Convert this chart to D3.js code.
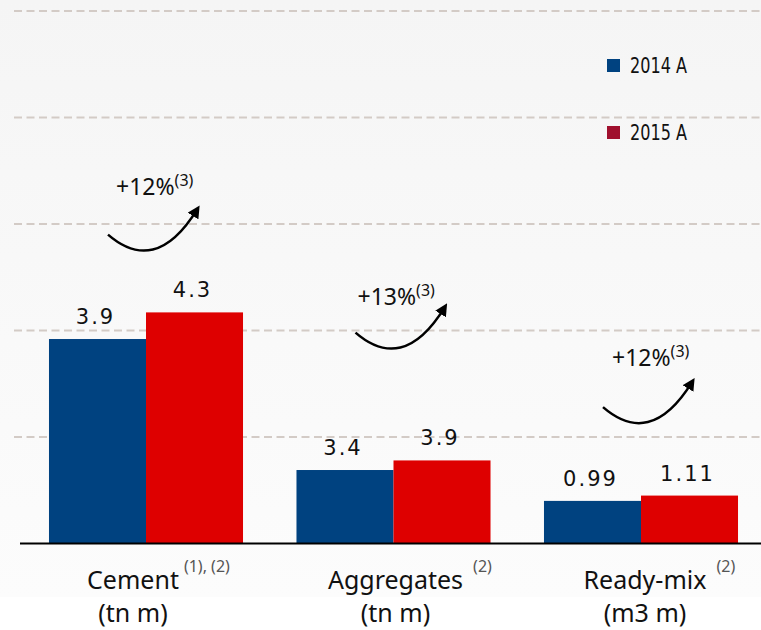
<!DOCTYPE html>
<html lang="en">
<head>
<meta charset="utf-8">
<title>Volumes 2014A vs 2015A</title>
<script src="https://d3js.org/d3.v7.min.js"></script>
<style>
  body { margin: 0; background: #fff; }
  .vlabel { font-family: "DejaVu Sans", sans-serif; font-size: 21px; letter-spacing: 2px; fill: #111; }
  .cat { font-family: "Noto Sans", sans-serif; font-size: 25px; fill: #111; }
  .sup { font-family: "Noto Sans", sans-serif; font-size: 16px; fill: #555; }
  .growth { font-family: "Noto Sans", sans-serif; font-size: 23px; fill: #111; }
  .legend { font-family: "Liberation Sans Narrow", "DejaVu Sans Condensed", sans-serif; font-size: 21px; fill: #111; }
</style>
</head>
<body>
<script>
// data
var categories = ["Cement", "Aggregates", "Ready-mix"];
var units = ["(tn m)", "(tn m)", "(m3 m)"];
var notes = ["(1), (2)", "(2)", "(2)"];
var series = ["2014 A", "2015 A"];
// bar heights as drawn, in gridline units
var heights2014 = [1.92, 0.69, 0.40];
var heights2015 = [2.17, 0.78, 0.45];
// printed values
var labels2014 = ["3.9", "3.4", "0.99"];
var labels2015 = ["4.3", "3.9", "1.11"];
var growth = ["+12%", "+13%", "+12%"];
var growthNote = "(3)";

var width = 761, height = 630;
var colors = ["#004280", "#de0000"];
var legendColors = ["#004280", "#a0102e"];

var svg = d3.select("body").append("svg")
  .attr("width", width)
  .attr("height", height);

// background
var defs = svg.append("defs");
var grad = defs.append("linearGradient").attr("id", "bg")
  .attr("x1", 0).attr("y1", 0).attr("x2", 0).attr("y2", 1);
grad.append("stop").attr("offset", "0%").attr("stop-color", "#f5f5f5");
grad.append("stop").attr("offset", "100%").attr("stop-color", "#fcfcfc");
svg.append("rect").attr("width", width).attr("height", 597).attr("fill", "url(#bg)");

defs.append("marker")
  .attr("id", "head")
  .attr("viewBox", "0 0 10 10")
  .attr("refX", 6).attr("refY", 5)
  .attr("markerWidth", 5).attr("markerHeight", 5)
  .attr("orient", "auto")
  .append("path").attr("d", "M0,0 L10,5 L0,10 z").attr("fill", "#000");

var x = d3.scaleBand()
  .domain(categories)
  .range([22.25, 764.75])
  .paddingInner(0.216)
  .paddingOuter(0.108);

var xSub = d3.scaleBand()
  .domain(series)
  .range([0, x.bandwidth()]);

var y = d3.scaleLinear()
  .domain([0, 5])
  .range([543.5, 11]);

// dashed gridlines
svg.append("g")
  .selectAll("line")
  .data(y.ticks(5).filter(function(d) { return d > 0; }))
  .enter().append("line")
  .attr("x1", 14).attr("x2", width)
  .attr("y1", function(d) { return y(d); })
  .attr("y2", function(d) { return y(d); })
  .attr("stroke", "#d3cbc6")
  .attr("stroke-width", 2)
  .attr("stroke-dasharray", "8,4.5");

var rows = categories.map(function(c, i) {
  return [
    { cat: c, s: series[0], h: heights2014[i], label: labels2014[i], color: colors[0] },
    { cat: c, s: series[1], h: heights2015[i], label: labels2015[i], color: colors[1] }
  ];
});

var groups = svg.append("g").selectAll("g")
  .data(rows)
  .enter().append("g")
  .attr("transform", function(d) { return "translate(" + x(d[0].cat) + ",0)"; });

groups.selectAll("rect")
  .data(function(d) { return d; })
  .enter().append("rect")
  .attr("x", function(d) { return xSub(d.s); })
  .attr("width", xSub.bandwidth())
  .attr("y", function(d) { return y(d.h); })
  .attr("height", function(d) { return y(0) - y(d.h); })
  .attr("fill", function(d) { return d.color; });

groups.selectAll("text")
  .data(function(d) { return d; })
  .enter().append("text")
  .attr("class", "vlabel")
  .attr("x", function(d) { return xSub(d.s) + xSub.bandwidth() / 2 - 2; })
  .attr("y", function(d) { return y(d.h) - 15; })
  .attr("text-anchor", "middle")
  .text(function(d) { return d.label; });

// baseline
svg.append("line")
  .attr("x1", 20).attr("x2", width)
  .attr("y1", y(0)).attr("y2", y(0))
  .attr("stroke", "#000")
  .attr("stroke-width", 2);

// category labels
var nudge = [-13, 2, 4];
var supDx = [5, 10, 10];
categories.forEach(function(c, i) {
  var cx = x(c) + x.bandwidth() / 2 + nudge[i];
  var t = svg.append("text")
    .attr("class", "cat")
    .attr("x", cx)
    .attr("y", 589)
    .attr("text-anchor", "middle")
    .text(c);
  var w = t.node().getComputedTextLength();
  svg.append("text")
    .attr("class", "sup")
    .attr("x", cx + w / 2 + supDx[i])
    .attr("y", 572)
    .text(notes[i]);
  svg.append("text")
    .attr("class", "cat")
    .attr("x", cx)
    .attr("y", 622)
    .attr("text-anchor", "middle")
    .text(units[i]);
});

// growth arrows, anchors in gridline units
var arrowY = [2.90, 1.98, 1.28];
var textDy = [-40, -28, -41];
var textDx = [8, 2, 9];
categories.forEach(function(c, i) {
  var sx = x(c) + x.bandwidth() / 2 - 38;
  var sy = y(arrowY[i]);
  svg.append("path")
    .attr("d", "M" + sx + "," + sy +
      " C" + (sx + 30) + "," + (sy + 26) + " " + (sx + 60) + "," + (sy + 22) + " " + (sx + 89) + "," + (sy - 25))
    .attr("fill", "none")
    .attr("stroke", "#000")
    .attr("stroke-width", 2.5)
    .attr("marker-end", "url(#head)");
  var g = svg.append("text")
    .attr("class", "growth")
    .attr("x", sx + textDx[i])
    .attr("y", sy + textDy[i]);
  g.append("tspan").text(growth[i]);
  g.append("tspan")
    .attr("dy", -9)
    .style("font-size", "16px")
    .text(growthNote);
});

// legend
var legend = svg.append("g").selectAll("g")
  .data(series)
  .enter().append("g")
  .attr("transform", function(d, i) { return "translate(607," + (59 + i * 67) + ")"; });

legend.append("rect")
  .attr("width", 13).attr("height", 13)
  .attr("fill", function(d, i) { return legendColors[i]; });

legend.append("text")
  .attr("class", "legend")
  .attr("x", 23)
  .attr("y", 14)
  .attr("textLength", 57)
  .attr("lengthAdjust", "spacingAndGlyphs")
  .text(function(d) { return d; });
</script>
</body>
</html>
